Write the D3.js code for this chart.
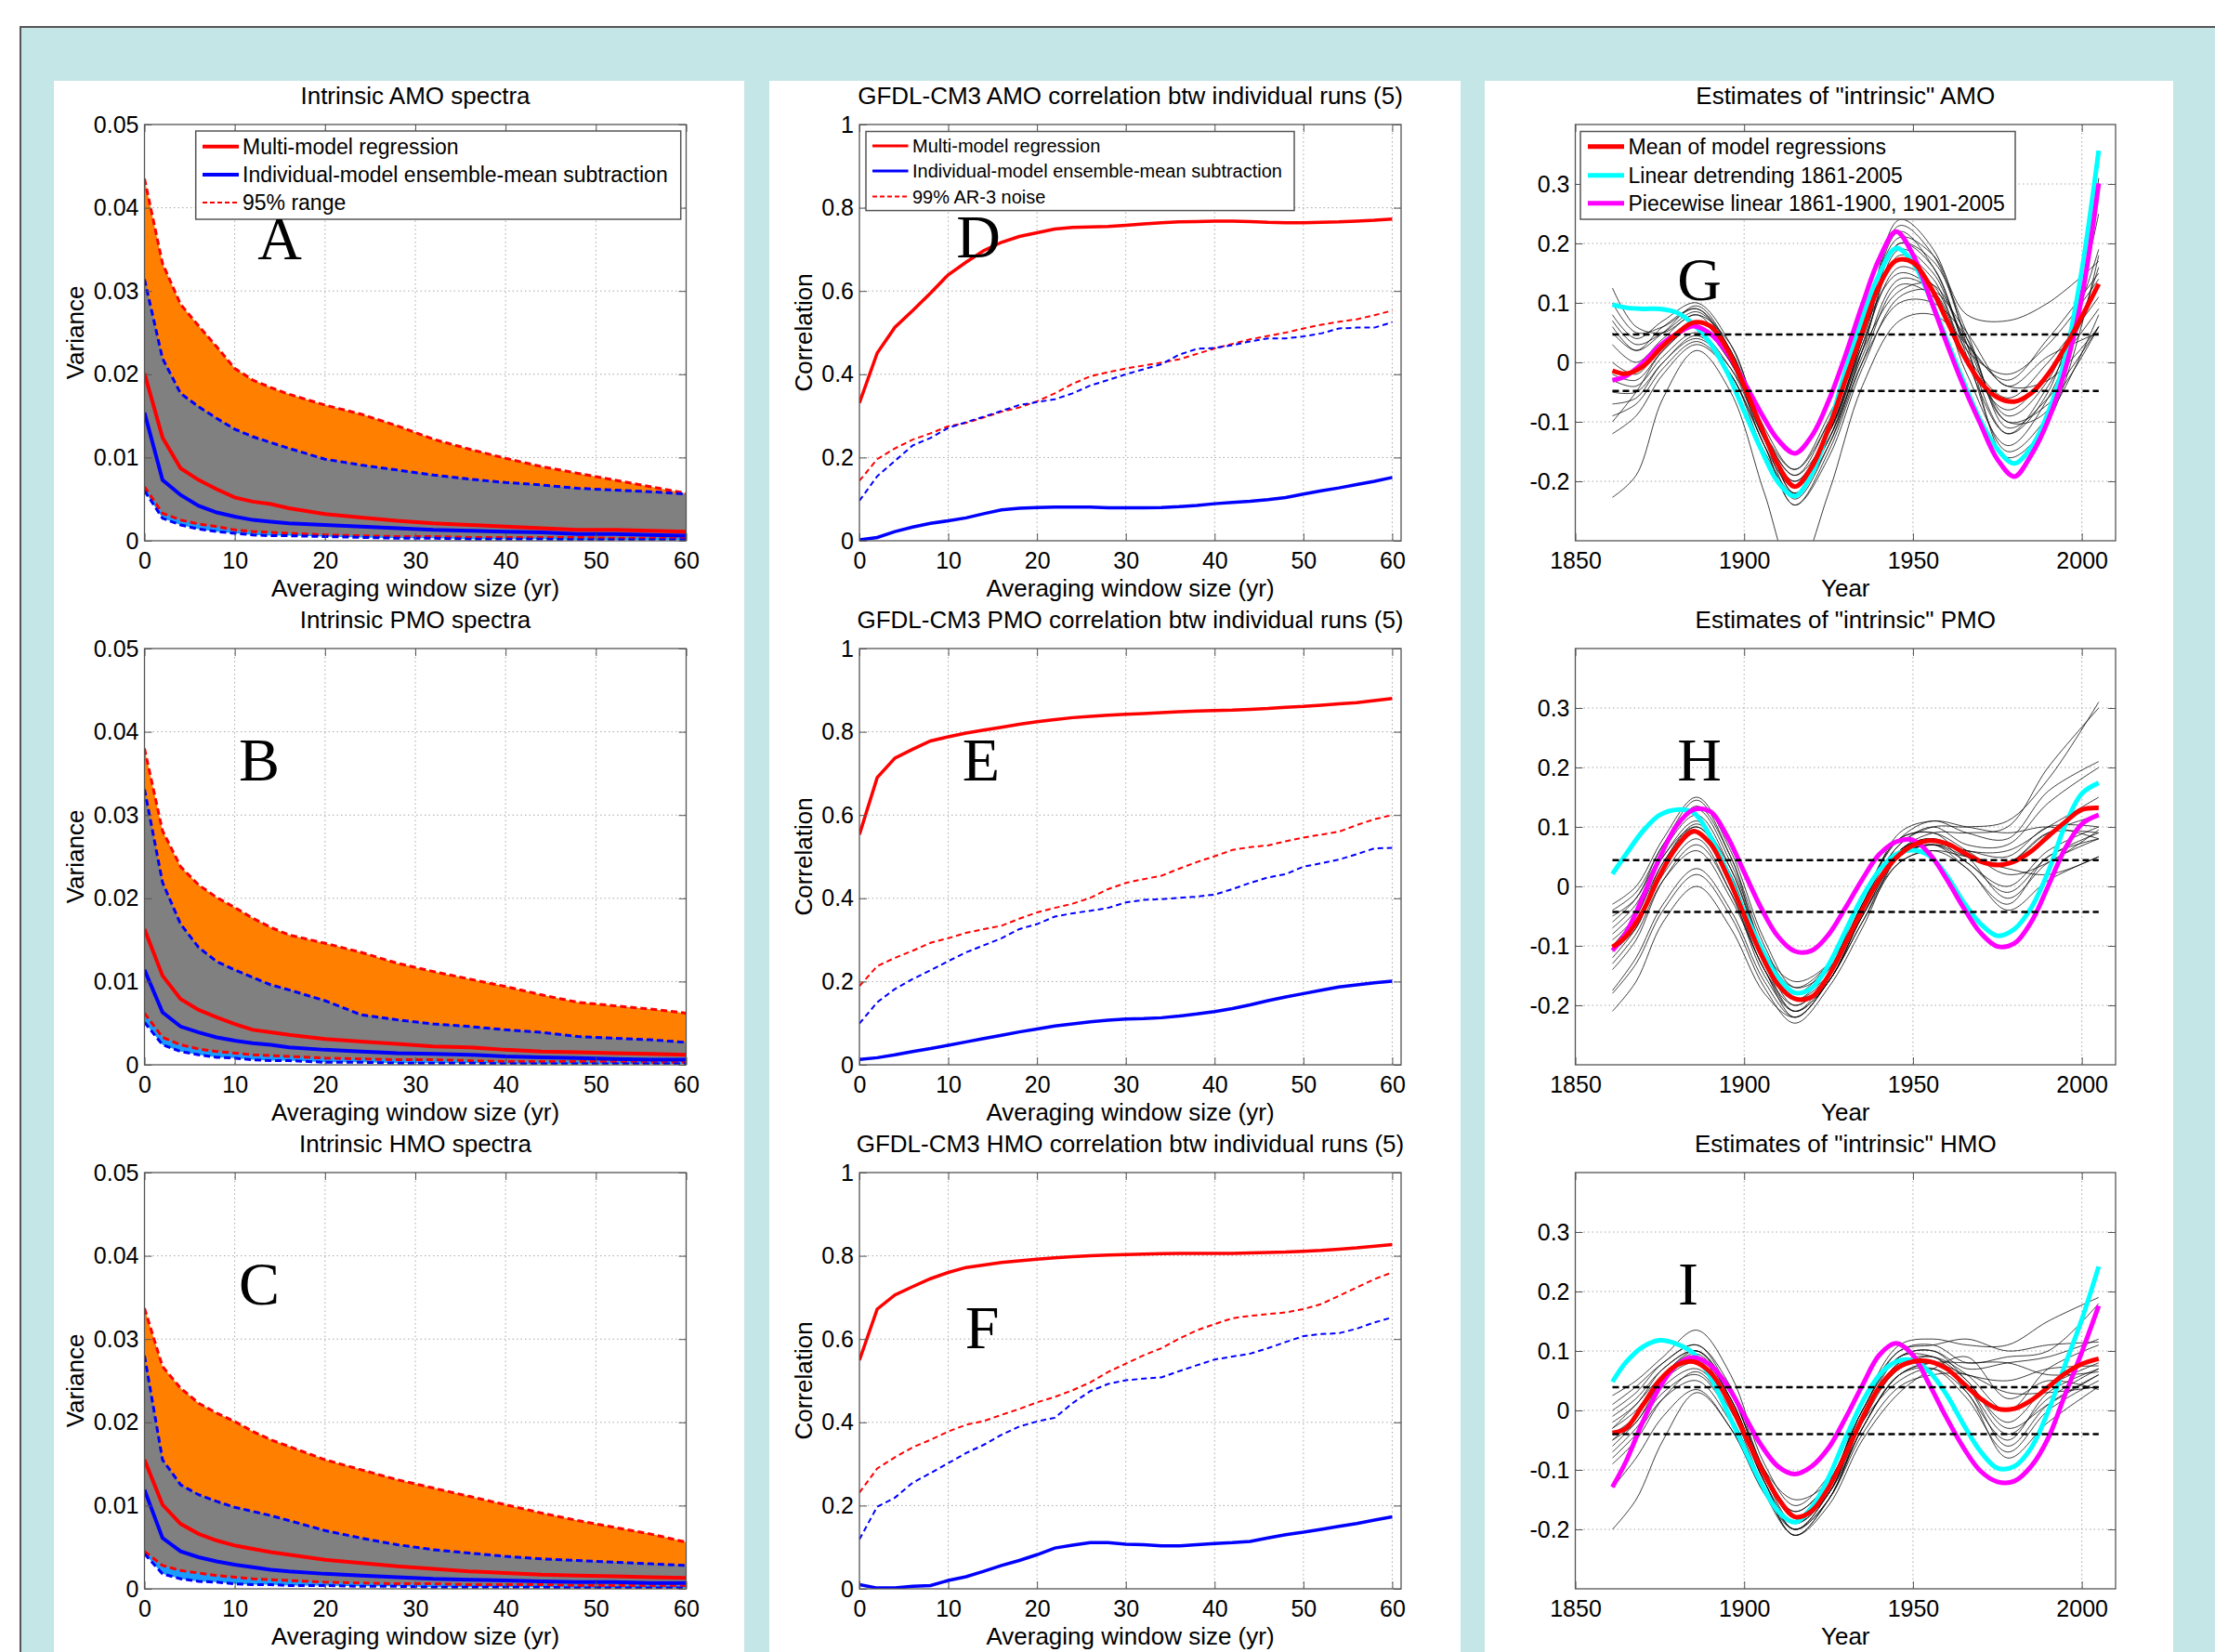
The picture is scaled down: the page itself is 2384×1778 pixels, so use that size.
<!DOCTYPE html>
<html><head><meta charset="utf-8">
<script src="https://cdn.jsdelivr.net/npm/d3@7"></script>
<style>body{margin:0;background:#fff}svg{display:block}</style>
</head><body>
<svg id="c" width="2384" height="1778"></svg>
<script>
// ---------------- DATA ----------------
const SPEC_X = [0,2,4,6,8,10,12,14,16,20,24,28,32,36,40,44,48,52,56,60];
const SPEC_XTICKS = [0,10,20,30,40,50,60];
const SPEC_YTICKS = [0,0.01,0.02,0.03,0.04,0.05];
const SPEC_YLABELS = ["0","0.01","0.02","0.03","0.04","0.05"];

const AMO_RED_HI  = [.0435,.0333,.0284,.0258,.0233,.0207,.0193,.0184,.0176,.0163,.0152,.0138,.0122,.0110,.0099,.0089,.0081,.0073,.0065,.0057];
const AMO_BLUE_HI = [.0314,.0219,.0177,.0161,.0147,.0134,.0125,.0118,.0111,.0098,.0091,.0085,.0079,.0074,.0070,.0067,.0063,.0061,.0059,.0056];
const AMO_RED     = [.0201,.0124,.0087,.0073,.0062,.0052,.0047,.0044,.0039,.0032,.0028,.0024,.0021,.0019,.0017,.0015,.0013,.0013,.0012,.0011];
const AMO_BLUE    = [.0154,.0073,.0055,.0042,.0034,.0029,.0025,.0023,.0021,.0019,.0017,.0015,.0013,.0012,.0011,.0010,.0008,.0008,.0007,.0006];
const AMO_RED_LO  = [.0065,.0033,.0025,.0020,.0017,.0013,.0011,.0010,.0009,.0007,.0006,.0005,.0005,.0004,.0004,.0004,.0004,.0003,.0003,.0003];
const AMO_BLUE_LO = [.0060,.0027,.0019,.0014,.0011,.0009,.0007,.0006,.0006,.0005,.0004,.0003,.0003,.0002,.0002,.0002,.0001,.0001,.0001,.0001];

const PMO_RED_HI  = [.0380,.0281,.0238,.0216,.0201,.0189,.0176,.0165,.0156,.0146,.0135,.0122,.0112,.0103,.0094,.0084,.0075,.0071,.0067,.0062];
const PMO_BLUE_HI = [.0331,.0219,.0169,.0141,.0124,.0114,.0105,.0096,.0090,.0077,.0060,.0054,.0049,.0046,.0042,.0039,.0034,.0032,.0030,.0027];
const PMO_RED     = [.0163,.0107,.0079,.0066,.0057,.0049,.0042,.0039,.0036,.0031,.0028,.0025,.0022,.0021,.0018,.0016,.0015,.0014,.0013,.0012];
const PMO_BLUE    = [.0114,.0063,.0046,.0039,.0033,.0029,.0026,.0024,.0021,.0018,.0016,.0014,.0013,.0012,.0010,.0009,.0008,.0007,.0006,.0006];
const PMO_RED_LO  = [.0062,.0033,.0024,.0019,.0016,.0014,.0012,.0011,.0010,.0008,.0007,.0006,.0006,.0005,.0004,.0004,.0004,.0004,.0003,.0003];
const PMO_BLUE_LO = [.0051,.0024,.0016,.0012,.0009,.0008,.0006,.0005,.0005,.0003,.0003,.0002,.0002,.0002,.0001,.0001,.0001,.0001,.0001,.0001];

const HMO_RED_HI  = [.0337,.0267,.0241,.0223,.0211,.0201,.0189,.0179,.0171,.0155,.0143,.0131,.0121,.0111,.0101,.0091,.0082,.0074,.0066,.0056];
const HMO_BLUE_HI = [.0280,.0155,.0125,.0113,.0105,.0098,.0093,.0088,.0082,.0070,.0061,.0053,.0047,.0043,.0039,.0036,.0034,.0032,.0030,.0028];
const HMO_RED     = [.0155,.0101,.0078,.0066,.0058,.0052,.0048,.0044,.0041,.0035,.0031,.0027,.0024,.0021,.0019,.0017,.0016,.0015,.0014,.0013];
const HMO_BLUE    = [.0119,.0061,.0045,.0038,.0033,.0029,.0026,.0023,.0021,.0018,.0016,.0014,.0012,.0011,.0010,.0009,.0008,.0008,.0007,.0007];
const HMO_RED_LO  = [.0045,.0028,.0022,.0019,.0016,.0014,.0012,.0011,.0010,.0008,.0007,.0006,.0006,.0005,.0005,.0005,.0004,.0004,.0004,.0004];
const HMO_BLUE_LO = [.0042,.0018,.0012,.0009,.0008,.0006,.0005,.0005,.0004,.0004,.0003,.0003,.0002,.0002,.0002,.0002,.0001,.0001,.0001,.0001];

const CORR_X = [0,2,4,6,8,10,12,14,16,18,20,22,24,26,28,30,32,34,36,38,40,42,44,46,48,50,52,54,56,58,60];
const CORR_XTICKS = [0,10,20,30,40,50,60];
const CORR_YTICKS = [0,0.2,0.4,0.6,0.8,1];
const CORR_YLABELS = ["0","0.2","0.4","0.6","0.8","1"];

const AMO_C_RED   = [.331,.451,.513,.553,.595,.639,.669,.697,.717,.731,.740,.749,.753,.754,.755,.758,.761,.764,.766,.767,.768,.768,.767,.765,.764,.764,.765,.766,.768,.770,.773];
const AMO_C_BLUE  = [.002,.008,.022,.033,.042,.048,.055,.065,.074,.078,.080,.081,.081,.081,.079,.079,.079,.080,.082,.085,.089,.092,.095,.099,.104,.112,.120,.127,.135,.143,.152];
const AMO_C_RNOISE= [.144,.196,.222,.243,.258,.275,.283,.296,.310,.320,.335,.354,.377,.395,.405,.414,.421,.428,.436,.449,.462,.473,.484,.492,.500,.510,.519,.526,.532,.542,.553];
const AMO_C_BNOISE= [.096,.155,.192,.229,.247,.271,.285,.298,.312,.326,.333,.340,.354,.373,.386,.400,.412,.424,.447,.461,.463,.470,.479,.486,.486,.491,.498,.510,.512,.512,.525];

const PMO_C_RED   = [.553,.690,.737,.758,.778,.788,.797,.804,.811,.818,.824,.829,.834,.837,.840,.842,.844,.846,.848,.850,.851,.852,.854,.856,.859,.861,.864,.867,.870,.875,.880];
const PMO_C_BLUE  = [.013,.017,.024,.032,.039,.047,.055,.063,.071,.079,.086,.093,.098,.103,.107,.110,.111,.113,.117,.122,.128,.135,.144,.154,.163,.171,.179,.187,.192,.197,.201];
const PMO_C_RNOISE= [.189,.237,.257,.274,.293,.304,.317,.326,.334,.351,.366,.377,.387,.401,.422,.437,.446,.454,.471,.487,.501,.516,.523,.527,.537,.546,.553,.560,.576,.590,.600];
const PMO_C_BNOISE= [.099,.150,.182,.206,.227,.249,.270,.287,.304,.326,.338,.356,.364,.370,.377,.390,.396,.398,.401,.404,.409,.422,.437,.450,.458,.476,.484,.493,.506,.520,.521];

const HMO_C_RED   = [.549,.672,.706,.726,.745,.760,.772,.778,.784,.788,.792,.795,.798,.800,.802,.803,.804,.805,.806,.806,.806,.806,.807,.808,.809,.811,.813,.816,.819,.823,.827];
const HMO_C_BLUE  = [.010,.002,.002,.006,.008,.020,.029,.042,.056,.068,.082,.098,.105,.111,.111,.107,.106,.103,.103,.106,.109,.111,.114,.122,.130,.136,.143,.150,.157,.165,.173];
const HMO_C_RNOISE= [.231,.289,.316,.340,.358,.378,.394,.403,.418,.432,.448,.461,.477,.496,.521,.541,.561,.578,.601,.621,.636,.650,.656,.660,.664,.672,.684,.704,.724,.744,.760];
const HMO_C_BNOISE= [.119,.197,.219,.255,.278,.302,.326,.346,.370,.390,.402,.411,.446,.475,.492,.501,.505,.508,.523,.537,.551,.558,.565,.578,.593,.607,.612,.614,.625,.640,.652];

const EST_YEARS = [1861,1865,1870,1875,1880,1885,1890,1895,1900,1905,1910,1915,1920,1925,1930,1935,1940,1945,1950,1955,1960,1965,1970,1975,1980,1985,1990,1995,2000,2005];
const EST_XTICKS = [1850,1900,1950,2000];
const EST_YTICKS = [-0.2,-0.1,0,0.1,0.2,0.3];
const EST_YLABELS = ["-0.2","-0.1","0","0.1","0.2","0.3"];

const AMO_E_RED  = [-0.014,-0.019,-0.007,0.022,0.048,0.067,0.061,0.022,-0.040,-0.108,-0.172,-0.209,-0.176,-0.111,-0.030,0.051,0.129,0.171,0.168,0.129,0.071,0.012,-0.033,-0.059,-0.066,-0.052,-0.020,0.025,0.077,0.132];
const AMO_E_CYAN = [0.097,0.092,0.090,0.090,0.084,0.064,0.032,-0.017,-0.082,-0.146,-0.201,-0.225,-0.188,-0.111,-0.014,0.074,0.148,0.192,0.168,0.109,0.038,-0.033,-0.098,-0.146,-0.170,-0.143,-0.085,0.006,0.155,0.356];
const AMO_E_MAG  = [-0.030,-0.023,-0.001,0.028,0.048,0.061,0.048,0.016,-0.033,-0.085,-0.130,-0.153,-0.124,-0.065,0.012,0.097,0.174,0.220,0.181,0.109,0.032,-0.040,-0.104,-0.163,-0.192,-0.156,-0.098,-0.014,0.109,0.301];
const AMO_E_BAND = [0.047,-0.048];

const PMO_E_RED  = [-0.102,-0.084,-0.042,0.018,0.066,0.093,0.072,0.018,-0.048,-0.114,-0.165,-0.189,-0.186,-0.150,-0.096,-0.039,0.012,0.048,0.069,0.077,0.072,0.057,0.042,0.036,0.042,0.059,0.084,0.108,0.129,0.132];
const PMO_E_CYAN = [0.021,0.054,0.093,0.120,0.129,0.124,0.084,0.024,-0.042,-0.102,-0.153,-0.179,-0.171,-0.132,-0.075,-0.018,0.027,0.054,0.061,0.051,0.018,-0.027,-0.063,-0.083,-0.072,-0.036,0.024,0.102,0.156,0.174];
const PMO_E_MAG  = [-0.108,-0.078,-0.018,0.048,0.102,0.129,0.126,0.084,0.024,-0.036,-0.084,-0.109,-0.108,-0.081,-0.036,0.012,0.054,0.075,0.078,0.054,0.012,-0.036,-0.078,-0.101,-0.096,-0.060,0.000,0.063,0.105,0.120];
const PMO_E_BAND = [0.044,-0.043];

const HMO_E_RED  = [-0.038,-0.030,0.009,0.051,0.076,0.082,0.064,0.020,-0.038,-0.097,-0.147,-0.179,-0.169,-0.130,-0.074,-0.013,0.039,0.070,0.082,0.082,0.070,0.045,0.020,0.003,0.003,0.017,0.039,0.062,0.078,0.087];
const HMO_E_CYAN = [0.048,0.081,0.107,0.118,0.112,0.096,0.056,-0.002,-0.063,-0.122,-0.169,-0.188,-0.163,-0.113,-0.047,0.014,0.059,0.082,0.084,0.064,0.026,-0.024,-0.069,-0.097,-0.094,-0.063,-0.002,0.076,0.153,0.242];
const HMO_E_MAG  = [-0.129,-0.086,-0.019,0.039,0.076,0.089,0.076,0.042,-0.008,-0.058,-0.094,-0.107,-0.094,-0.063,-0.013,0.042,0.093,0.113,0.093,0.042,-0.013,-0.063,-0.102,-0.120,-0.119,-0.094,-0.047,0.026,0.098,0.176];
const HMO_E_BAND = [0.039,-0.040];

// individual model regressions (thin black), sampled at these years
const MODEL_YEARS = [1861,1868,1876,1886,1896,1906,1915,1925,1935,1946,1956,1966,1978,1990,2005];
const AMO_MODELS = [
  [0.125,0.06,0.05,0.08,0.03,-0.12,-0.19,-0.12,0.03,0.20,0.17,0.05,-0.10,-0.08,0.31],
  [0.10,0.05,0.06,0.09,0.02,-0.13,-0.20,-0.11,0.05,0.22,0.16,0.02,-0.12,-0.05,0.25],
  [0.08,0.04,0.07,0.10,0.03,-0.12,-0.22,-0.12,0.04,0.23,0.18,0.04,-0.09,-0.03,0.19],
  [0.07,0.03,0.05,0.085,0.02,-0.11,-0.18,-0.10,0.06,0.21,0.18,0.08,0.07,0.10,0.17],
  [0.05,0.02,0.06,0.09,0.01,-0.14,-0.21,-0.13,0.02,0.19,0.15,0.03,-0.03,0.04,0.15],
  [0.03,0.00,0.04,0.08,0.00,-0.13,-0.23,-0.14,0.02,0.18,0.14,0.02,-0.02,0.03,0.14],
  [0.00,-0.02,0.03,0.07,0.01,-0.12,-0.20,-0.12,0.03,0.16,0.13,0.00,-0.12,-0.04,0.13],
  [-0.02,-0.03,0.02,0.06,0.00,-0.12,-0.19,-0.10,0.05,0.15,0.12,-0.02,-0.14,-0.06,0.16],
  [-0.03,-0.04,0.01,0.05,-0.01,-0.13,-0.21,-0.13,0.01,0.14,0.12,0.01,-0.06,0.00,0.11],
  [-0.05,-0.05,0.00,0.045,-0.02,-0.14,-0.24,-0.15,0.00,0.13,0.11,0.00,-0.08,-0.02,0.09],
  [-0.07,-0.06,0.00,0.04,-0.01,-0.12,-0.22,-0.13,0.02,0.12,0.13,0.03,-0.10,-0.07,0.06],
  [-0.09,-0.07,-0.01,0.035,-0.02,-0.14,-0.24,-0.16,-0.01,0.11,0.12,0.05,-0.04,0.01,0.05],
  [-0.10,-0.05,0.02,0.06,0.00,-0.12,-0.18,-0.09,0.04,0.20,0.16,0.01,-0.15,-0.09,0.08],
  [-0.12,-0.09,-0.02,0.03,-0.02,-0.15,-0.22,-0.14,0.00,0.10,0.10,0.04,-0.11,-0.06,0.06],
  [-0.227,-0.19,-0.06,0.02,-0.05,-0.22,-0.36,-0.22,-0.04,0.07,0.08,0.03,-0.04,-0.03,0.06],
  [0.06,0.02,0.05,0.095,0.02,-0.12,-0.21,-0.12,0.04,0.24,0.19,0.03,-0.16,-0.10,0.18]
];
const PMO_MODELS = [
  [-0.03,0.00,0.08,0.15,0.06,-0.09,-0.17,-0.14,-0.03,0.07,0.10,0.10,0.11,0.18,0.31],
  [-0.04,-0.01,0.07,0.145,0.05,-0.10,-0.18,-0.15,-0.04,0.06,0.09,0.09,0.10,0.20,0.30],
  [-0.05,-0.02,0.07,0.13,0.04,-0.11,-0.19,-0.14,-0.02,0.08,0.11,0.09,0.08,0.16,0.21],
  [-0.07,-0.03,0.06,0.12,0.03,-0.12,-0.20,-0.15,-0.03,0.07,0.10,0.07,0.07,0.14,0.20],
  [-0.08,-0.04,0.05,0.11,0.02,-0.12,-0.18,-0.13,-0.02,0.08,0.09,0.05,0.04,0.09,0.12],
  [-0.09,-0.05,0.05,0.10,0.02,-0.13,-0.19,-0.15,-0.04,0.06,0.08,0.04,0.00,0.06,0.10],
  [-0.10,-0.06,0.04,0.10,0.01,-0.13,-0.21,-0.16,-0.05,0.05,0.07,0.04,-0.01,0.05,0.09],
  [-0.11,-0.07,0.03,0.09,0.00,-0.14,-0.20,-0.15,-0.04,0.06,0.08,0.05,-0.02,0.04,0.08],
  [-0.12,-0.07,0.02,0.08,-0.01,-0.14,-0.21,-0.16,-0.05,0.05,0.07,0.03,-0.03,0.05,0.08],
  [-0.13,-0.08,0.01,0.06,-0.02,-0.14,-0.22,-0.16,-0.05,0.04,0.06,0.03,-0.04,0.01,0.05],
  [-0.175,-0.12,-0.03,0.03,-0.04,-0.16,-0.22,-0.16,-0.06,0.04,0.06,0.05,0.04,0.09,0.09],
  [-0.18,-0.13,-0.04,0.02,-0.05,-0.17,-0.23,-0.17,-0.07,0.05,0.07,0.06,0.05,0.10,0.10],
  [-0.21,-0.16,-0.06,0.00,-0.07,-0.18,-0.22,-0.16,-0.06,0.05,0.07,0.05,0.03,0.02,0.05],
  [-0.06,-0.02,0.06,0.135,0.05,-0.11,-0.16,-0.13,-0.03,0.09,0.11,0.10,0.09,0.10,0.08],
  [-0.10,-0.05,0.04,0.105,0.03,-0.11,-0.17,-0.13,-0.02,0.08,0.09,0.06,0.02,0.04,0.095],
  [-0.14,-0.09,0.01,0.07,-0.01,-0.15,-0.21,-0.15,-0.04,0.06,0.08,0.06,0.06,0.10,0.15]
];
const HMO_MODELS = [
  [0.025,0.05,0.09,0.135,0.06,-0.09,-0.16,-0.11,0.01,0.11,0.12,0.11,0.11,0.15,0.19],
  [0.01,0.04,0.08,0.11,0.04,-0.10,-0.17,-0.12,0.00,0.10,0.11,0.08,0.09,0.10,0.18],
  [0.00,0.03,0.08,0.11,0.03,-0.10,-0.18,-0.13,-0.01,0.09,0.10,0.07,0.08,0.09,0.12],
  [-0.01,0.02,0.07,0.10,0.03,-0.11,-0.19,-0.14,-0.01,0.08,0.09,0.06,0.00,0.07,0.11],
  [-0.02,0.01,0.07,0.10,0.02,-0.11,-0.18,-0.13,0.00,0.09,0.10,0.05,-0.02,0.04,0.08],
  [-0.03,0.00,0.06,0.09,0.02,-0.12,-0.20,-0.14,-0.02,0.08,0.08,0.04,-0.04,0.02,0.07],
  [-0.04,-0.01,0.05,0.09,0.01,-0.12,-0.19,-0.13,-0.01,0.07,0.09,0.03,-0.05,0.03,0.07],
  [-0.05,-0.02,0.05,0.08,0.01,-0.12,-0.20,-0.15,-0.02,0.07,0.08,0.04,-0.06,0.01,0.06],
  [-0.06,-0.02,0.04,0.07,0.00,-0.13,-0.21,-0.15,-0.03,0.06,0.07,0.02,-0.07,0.00,0.05],
  [-0.07,-0.03,0.03,0.06,-0.01,-0.13,-0.20,-0.14,-0.02,0.05,0.07,0.03,-0.08,-0.02,0.04],
  [-0.08,-0.04,0.02,0.05,-0.02,-0.13,-0.19,-0.14,-0.03,0.06,0.08,0.08,0.08,0.06,0.065],
  [-0.13,-0.08,-0.01,0.035,-0.03,-0.14,-0.20,-0.15,-0.04,0.04,0.06,0.06,0.03,0.03,0.04],
  [-0.20,-0.15,-0.05,0.03,-0.03,-0.14,-0.21,-0.16,-0.05,0.03,0.07,0.09,0.02,0.05,0.035],
  [-0.03,0.01,0.06,0.10,0.03,-0.10,-0.15,-0.12,0.01,0.10,0.11,0.12,0.10,0.11,0.115],
  [-0.05,-0.01,0.06,0.095,0.02,-0.11,-0.17,-0.12,0.00,0.09,0.09,0.05,-0.03,0.01,0.06],
  [-0.09,-0.05,0.02,0.065,-0.01,-0.13,-0.21,-0.15,-0.03,0.06,0.08,0.06,0.05,0.07,0.075]
];

// ---------------- DRAWING ----------------
const FONT = '"Liberation Sans", Arial, Helvetica, sans-serif';
const SERIF = '"Liberation Serif", "Times New Roman", serif';
const svg = d3.select('#c');
svg.append('rect').attr('width',2384).attr('height',1778).attr('fill','#fff');
svg.append('rect').attr('x',22).attr('y',29).attr('width',2420).attr('height',1800)
  .attr('fill','#c4e6e7').attr('stroke','#555').attr('stroke-width',2);
[[58,801],[828,1572],[1598,2339]].forEach(([a,b]) =>
  svg.append('rect').attr('x',a).attr('y',87).attr('width',b-a).attr('height',1720).attr('fill','#fff'));

const COLS = [{x0:155.5,x1:738.5},{x0:925,x1:1508},{x0:1695.5,x1:2277}];
const ROWS = [134,698,1262];
const AH = 448;
let clipId = 0;

function frame(col,row,xDom,yDom,xt,xl,yt,yl,grid){
  const c = COLS[col], top = ROWS[row], w = c.x1-c.x0;
  const g = svg.append('g').attr('transform',`translate(${c.x0},${top})`);
  const x = d3.scaleLinear(xDom,[0,w]);
  const y = d3.scaleLinear(yDom,[AH,0]);
  const gg = g.append('g');
  gg.selectAll('.gx').data(grid.x).join('line')
    .attr('x1',d=>x(d)).attr('x2',d=>x(d)).attr('y1',0).attr('y2',AH)
    .attr('stroke','#a8a8a8').attr('stroke-width',1).attr('stroke-dasharray','1.5,3');
  gg.selectAll('.gy').data(grid.y).join('line')
    .attr('y1',d=>y(d)).attr('y2',d=>y(d)).attr('x1',0).attr('x2',w)
    .attr('stroke','#a8a8a8').attr('stroke-width',1).attr('stroke-dasharray','1.5,3');
  const id = 'clip'+(clipId++);
  g.append('clipPath').attr('id',id).append('rect').attr('width',w).attr('height',AH);
  const plot = g.append('g').attr('clip-path',`url(#${id})`);
  return {g,plot,x,y,w,xt,xl,yt,yl};
}
function finish(f){
  const {g,x,y,w,xt,xl,yt,yl} = f;
  const style = sel => {
    sel.select('.domain').remove();
    sel.selectAll('line').attr('stroke','#555');
    sel.selectAll('text').attr('font-size',25).attr('font-family',FONT).attr('fill','#000');
  };
  g.append('g').attr('transform',`translate(0,${AH})`)
    .call(d3.axisBottom(x).tickValues(xt).tickFormat((d,i)=>xl[i]).tickSize(-8).tickPadding(12)).call(style);
  g.append('g').call(d3.axisTop(x).tickValues(xt).tickFormat('').tickSize(-8)).call(style);
  g.append('g').call(d3.axisLeft(y).tickValues(yt).tickFormat((d,i)=>yl[i]).tickSize(-8).tickPadding(6)).call(style);
  g.append('g').attr('transform',`translate(${w},0)`)
    .call(d3.axisRight(y).tickValues(yt).tickFormat('').tickSize(-8)).call(style);
  g.append('rect').attr('width',w).attr('height',AH).attr('fill','none').attr('stroke','#555').attr('stroke-width',1.3);
}
function texts(col,row,title,xlabel,ylabel,ylabelOff){
  const c = COLS[col], top = ROWS[row], cx = (c.x0+c.x1)/2;
  svg.append('text').attr('x',cx).attr('y',top-22).attr('text-anchor','middle')
    .attr('font-family',FONT).attr('font-size',26).text(title);
  svg.append('text').attr('x',cx).attr('y',top+AH+60).attr('text-anchor','middle')
    .attr('font-family',FONT).attr('font-size',26).text(xlabel);
  if (ylabel) {
    const yx = c.x0-ylabelOff, yy = top+AH/2;
    svg.append('text').attr('transform',`translate(${yx},${yy}) rotate(-90)`).attr('text-anchor','middle')
      .attr('font-family',FONT).attr('font-size',26).text(ylabel);
  }
}
function letter(t,x,y){
  svg.append('text').attr('x',x).attr('y',y).attr('text-anchor','middle')
    .attr('font-family',SERIF).attr('font-size',66).text(t);
}
function legend(box,rows,lx0,lx1,tx,fs,items){
  const g = svg.append('g');
  g.append('rect').attr('x',box[0]).attr('y',box[1]).attr('width',box[2]-box[0]).attr('height',box[3]-box[1])
    .attr('fill','#fff').attr('stroke','#555').attr('stroke-width',1.5);
  items.forEach((it,i)=>{
    g.append('line').attr('x1',lx0).attr('x2',lx1).attr('y1',rows[i]).attr('y2',rows[i])
      .attr('stroke',it.color).attr('stroke-width',it.w).attr('stroke-dasharray',it.dash||null);
    g.append('text').attr('x',tx).attr('y',rows[i]).attr('dy','0.35em').attr('font-family',FONT)
      .attr('font-size',fs).text(it.label);
  });
}

// ---- spectra panels ----
function drawSpectra(row,d){
  const f = frame(0,row,[0,60],[0,0.05],SPEC_XTICKS,SPEC_XTICKS.map(String),SPEC_YTICKS,SPEC_YLABELS,
    {x:[10,20,30,40,50],y:[0.01,0.02,0.03,0.04]});
  const {plot,x,y} = f;
  const area = (lo,hi)=> d3.area().x((v,i)=>x(SPEC_X[i])).y0((v,i)=>y(lo[i])).y1((v,i)=>y(hi[i]));
  plot.append('path').attr('d',area(d.rlo,d.rhi)(SPEC_X)).attr('fill','#ff8000');
  plot.append('path').attr('d',area(d.blo,d.bhi)(SPEC_X)).attr('fill','#1a9cff');
  plot.append('path').attr('d',area(d.rlo,d.bhi)(SPEC_X)).attr('fill','#808080');
  const line = arr => d3.line().x((v,i)=>x(SPEC_X[i])).y(v=>y(v))(arr);
  plot.append('path').attr('d',line(d.rhi)).attr('fill','none').attr('stroke','#ff0000').attr('stroke-width',3).attr('stroke-dasharray','7,4');
  plot.append('path').attr('d',line(d.rlo)).attr('fill','none').attr('stroke','#ff0000').attr('stroke-width',3).attr('stroke-dasharray','7,4');
  plot.append('path').attr('d',line(d.bhi)).attr('fill','none').attr('stroke','#0000ff').attr('stroke-width',3).attr('stroke-dasharray','7,4');
  plot.append('path').attr('d',line(d.blo)).attr('fill','none').attr('stroke','#0000ff').attr('stroke-width',3).attr('stroke-dasharray','7,4');
  plot.append('path').attr('d',line(d.r)).attr('fill','none').attr('stroke','#ff0000').attr('stroke-width',4);
  plot.append('path').attr('d',line(d.b)).attr('fill','none').attr('stroke','#0000ff').attr('stroke-width',4);
  finish(f);
}
drawSpectra(0,{rhi:AMO_RED_HI,bhi:AMO_BLUE_HI,r:AMO_RED,b:AMO_BLUE,rlo:AMO_RED_LO,blo:AMO_BLUE_LO});
drawSpectra(1,{rhi:PMO_RED_HI,bhi:PMO_BLUE_HI,r:PMO_RED,b:PMO_BLUE,rlo:PMO_RED_LO,blo:PMO_BLUE_LO});
drawSpectra(2,{rhi:HMO_RED_HI,bhi:HMO_BLUE_HI,r:HMO_RED,b:HMO_BLUE,rlo:HMO_RED_LO,blo:HMO_BLUE_LO});
texts(0,0,'Intrinsic AMO spectra','Averaging window size (yr)','Variance',65.5);
texts(0,1,'Intrinsic PMO spectra','Averaging window size (yr)','Variance',65.5);
texts(0,2,'Intrinsic HMO spectra','Averaging window size (yr)','Variance',65.5);

// ---- correlation panels ----
function drawCorr(row,d){
  const f = frame(1,row,[0,61],[0,1],CORR_XTICKS,CORR_XTICKS.map(String),CORR_YTICKS,CORR_YLABELS,
    {x:[10,20,30,40,50,60],y:[0.2,0.4,0.6,0.8]});
  const {plot,x,y} = f;
  const line = arr => d3.line().x((v,i)=>x(CORR_X[i])).y(v=>y(v))(arr);
  plot.append('path').attr('d',line(d.rn)).attr('fill','none').attr('stroke','#ff0000').attr('stroke-width',2).attr('stroke-dasharray','6,4');
  plot.append('path').attr('d',line(d.bn)).attr('fill','none').attr('stroke','#0000ff').attr('stroke-width',2).attr('stroke-dasharray','6,4');
  plot.append('path').attr('d',line(d.r)).attr('fill','none').attr('stroke','#ff0000').attr('stroke-width',3.5);
  plot.append('path').attr('d',line(d.b)).attr('fill','none').attr('stroke','#0000ff').attr('stroke-width',3.5);
  finish(f);
}
drawCorr(0,{r:AMO_C_RED,b:AMO_C_BLUE,rn:AMO_C_RNOISE,bn:AMO_C_BNOISE});
drawCorr(1,{r:PMO_C_RED,b:PMO_C_BLUE,rn:PMO_C_RNOISE,bn:PMO_C_BNOISE});
drawCorr(2,{r:HMO_C_RED,b:HMO_C_BLUE,rn:HMO_C_RNOISE,bn:HMO_C_BNOISE});
texts(1,0,'GFDL-CM3 AMO correlation btw individual runs (5)','Averaging window size (yr)','Correlation',51);
texts(1,1,'GFDL-CM3 PMO correlation btw individual runs (5)','Averaging window size (yr)','Correlation',51);
texts(1,2,'GFDL-CM3 HMO correlation btw individual runs (5)','Averaging window size (yr)','Correlation',51);

// ---- estimate panels ----
function drawEst(row,d){
  const f = frame(2,row,[1850,2010],[-0.3,0.4],EST_XTICKS,EST_XTICKS.map(String),EST_YTICKS,EST_YLABELS,
    {x:[1900,1950,2000],y:[-0.2,-0.1,0,0.1,0.2,0.3]});
  const {plot,x,y} = f;
  const lineK = d3.line().curve(d3.curveCatmullRom.alpha(0.5)).x((v,i)=>x(MODEL_YEARS[i])).y(v=>y(v));
  d.models.forEach(m=> plot.append('path').attr('d',lineK(m)).attr('fill','none').attr('stroke','#000').attr('stroke-width',0.9).attr('stroke-opacity',0.85));
  const lineE = d3.line().curve(d3.curveCatmullRom.alpha(0.5)).x((v,i)=>x(EST_YEARS[i])).y(v=>y(v));
  plot.append('path').attr('d',lineE(d.cyan)).attr('fill','none').attr('stroke','#00ffff').attr('stroke-width',5);
  plot.append('path').attr('d',lineE(d.mag)).attr('fill','none').attr('stroke','#ff00ff').attr('stroke-width',5);
  plot.append('path').attr('d',lineE(d.red)).attr('fill','none').attr('stroke','#ff0000').attr('stroke-width',5);
  d.band.forEach(b=> plot.append('line').attr('x1',x(1861)).attr('x2',x(2005)).attr('y1',y(b)).attr('y2',y(b))
    .attr('stroke','#000').attr('stroke-width',2.5).attr('stroke-dasharray','7,4'));
  finish(f);
}
drawEst(0,{red:AMO_E_RED,cyan:AMO_E_CYAN,mag:AMO_E_MAG,band:AMO_E_BAND,models:AMO_MODELS});
drawEst(1,{red:PMO_E_RED,cyan:PMO_E_CYAN,mag:PMO_E_MAG,band:PMO_E_BAND,models:PMO_MODELS});
drawEst(2,{red:HMO_E_RED,cyan:HMO_E_CYAN,mag:HMO_E_MAG,band:HMO_E_BAND,models:HMO_MODELS});
texts(2,0,'Estimates of "intrinsic" AMO','Year',null,0);
texts(2,1,'Estimates of "intrinsic" PMO','Year',null,0);
texts(2,2,'Estimates of "intrinsic" HMO','Year',null,0);

// ---- legends ----
legend([210.7,141,732.7,236],[157.7,188,218],218,257,261,23,[
  {label:'Multi-model regression',color:'#ff0000',w:4},
  {label:'Individual-model ensemble-mean subtraction',color:'#0000ff',w:4},
  {label:'95% range',color:'#ff0000',w:2,dash:'5,3'}]);
legend([932,141.5,1393,226.6],[157,184,211.6],939,977.5,982,20,[
  {label:'Multi-model regression',color:'#ff0000',w:3},
  {label:'Individual-model ensemble-mean subtraction',color:'#0000ff',w:3},
  {label:'99% AR-3 noise',color:'#ff0000',w:2,dash:'5,3'}]);
legend([1701,141.5,2169,236],[157.7,188.8,218.7],1709,1748,1752.5,23,[
  {label:'Mean of model regressions',color:'#ff0000',w:5},
  {label:'Linear detrending 1861-2005',color:'#00ffff',w:5},
  {label:'Piecewise linear 1861-1900, 1901-2005',color:'#ff00ff',w:5}]);

// ---- panel letters ----
letter('A',301,279); letter('D',1053,277); letter('G',1829,323);
letter('B',279,840); letter('E',1056,840); letter('H',1829,840);
letter('C',279,1404); letter('F',1057,1451); letter('I',1817,1404);
</script>
</body></html>
